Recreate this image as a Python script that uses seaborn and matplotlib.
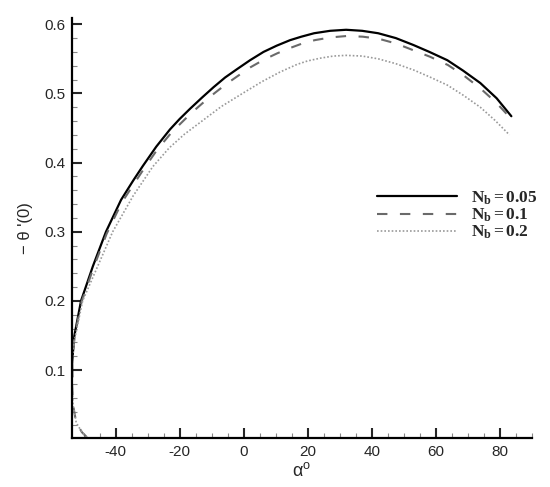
import numpy as np
import pandas as pd
import matplotlib
matplotlib.use("Agg")
import matplotlib.pyplot as plt
import seaborn as sns
from matplotlib.ticker import MultipleLocator

# =======================
# DADOS
# =======================

alpha_005 = [-53.55, -53.6, -52.9, -50.8, -47.1, -43.0, -38.3, -34.5, -31.5, -27.3, -23.0,
             -20.0, -16.7, -13.0, -9.4, -5.8, -2.1, 2.0, 6.2, 10.3, 14.5, 18.0, 22.0, 27.0,
             32.0, 37.0, 42.0, 47.5, 53.0, 58.0, 63.6, 68.5, 73.9, 79.0, 83.6]
theta_005 = [0.090, 0.110, 0.149, 0.200, 0.250, 0.300, 0.346, 0.374, 0.395, 0.423, 0.448,
             0.463, 0.478, 0.494, 0.509, 0.523, 0.535, 0.548, 0.560, 0.569, 0.577, 0.582,
             0.587, 0.5905, 0.592, 0.5905, 0.587, 0.580, 0.570, 0.560, 0.548, 0.533, 0.515,
             0.493, 0.467]

alpha_01 = [-49.0, -50.5, -52.3, -53.3, -53.6, -53.6, -52.8, -50.6, -46.9, -42.8, -38.1,
            -34.3, -31.3, -27.1, -22.8, -19.8, -16.5, -12.8, -9.2, -5.6, -1.9, 2.2, 6.4,
            10.5, 14.7, 18.2, 22.2, 27.2, 32.2, 37.2, 42.2, 47.7, 53.2, 58.2, 63.8, 68.7,
            74.0, 79.0, 83.6]
theta_01 = [0.003, 0.010, 0.024, 0.050, 0.080, 0.110, 0.149, 0.199, 0.248, 0.297, 0.342,
            0.369, 0.390, 0.418, 0.442, 0.456, 0.471, 0.486, 0.500, 0.513, 0.525, 0.538,
            0.549, 0.558, 0.566, 0.572, 0.577, 0.581, 0.583, 0.582, 0.579, 0.572, 0.562,
            0.553, 0.541, 0.526, 0.507, 0.486, 0.463]

alpha_02 = [-49.0, -50.5, -52.3, -53.3, -53.6, -53.6, -53.0, -50.3, -45.6, -40.9, -34.5,
            -28.4, -23.3, -18.5, -13.6, -7.0, 0.0, 5.7, 11.4, 16.7, 20.0, 24.0, 28.0, 32.0,
            37.0, 42.0, 47.5, 53.0, 58.0, 63.6, 68.7, 73.9, 78.5, 83.0]
theta_02 = [0.003, 0.010, 0.024, 0.050, 0.080, 0.110, 0.140, 0.200, 0.250, 0.300, 0.352,
            0.394, 0.421, 0.441, 0.458, 0.481, 0.501, 0.517, 0.531, 0.542, 0.547, 0.551,
            0.554, 0.555, 0.554, 0.550, 0.543, 0.534, 0.524, 0.512, 0.497, 0.480, 0.461,
            0.440]

rotulos = [r'$\mathbf{N_b}$$\mathbf{= 0.05}$', r'$\mathbf{N_b}$$\mathbf{= 0.1}$',
           r'$\mathbf{N_b}$$\mathbf{= 0.2}$']

# =======================
# ESTILO
# =======================

sns.set_style("white")
plt.rcParams['font.family'] = ['Liberation Sans', 'DejaVu Sans']
plt.rcParams['axes.unicode_minus'] = False
plt.rcParams['mathtext.fontset'] = 'custom'
plt.rcParams['mathtext.rm'] = 'Liberation Serif'
plt.rcParams['mathtext.bf'] = 'Liberation Serif:bold'
plt.rcParams['mathtext.it'] = 'Liberation Serif:italic'

fig = plt.figure(figsize=(5.5, 4.87), dpi=100)
ax = fig.add_axes([0.131, 0.101, 0.836, 0.862])

series = [
    (alpha_005, theta_005, dict(color='black', lw=1.6, linestyle='-')),
    (alpha_01, theta_01, dict(color='#6a6a6a', lw=1.5, linestyle=(0, (5, 6)))),
    (alpha_02, theta_02, dict(color='#9a9a9a', lw=1.2, linestyle=(0, (1, 1.2)))),
]

for (x, y, estilo), rot in zip(series, rotulos):
    df = pd.DataFrame({'alpha': x, 'theta': y})
    sns.lineplot(data=df, x='alpha', y='theta', sort=False, estimator=None,
                 ax=ax, label=rot, **estilo)

ax.set_xlim(-53.6, 90)
ax.set_ylim(0.002, 0.609)
ax.xaxis.set_major_locator(MultipleLocator(20))
ax.xaxis.set_minor_locator(MultipleLocator(5))
ax.yaxis.set_major_locator(MultipleLocator(0.1))
ax.yaxis.set_minor_locator(MultipleLocator(0.02))
ax.set_xticks([-40, -20, 0, 20, 40, 60, 80])
ax.set_yticks([0.1, 0.2, 0.3, 0.4, 0.5, 0.6])
ax.set_yticklabels(['0.1', '0.2', '0.3', '0.4', '0.5', '0.6'])

ax.tick_params(which='major', direction='in', length=7.5, width=1.5, labelsize=11,
               bottom=True, left=True, pad=5)
ax.tick_params(which='minor', direction='in', length=3.8, width=0.8, color='#888888',
               bottom=True, left=True)

for lado in ['top', 'right']:
    ax.spines[lado].set_visible(False)
for lado in ['left', 'bottom']:
    ax.spines[lado].set_linewidth(1.6)
    ax.spines[lado].set_color('black')

ax.set_xlabel(r'$\mathregular{\alpha^o}$', fontsize=13, labelpad=2)
ax.set_ylabel("\u2212 \u03b8 '(0)", fontsize=12, labelpad=8)

ax.legend(loc='upper left', bbox_to_anchor=(0.663, 0.592), frameon=False, fontsize=12.5,
          handlelength=4.6, labelspacing=0.0, handletextpad=0.8, borderaxespad=0,
          borderpad=0)

plt.savefig('out.png', dpi=100)
